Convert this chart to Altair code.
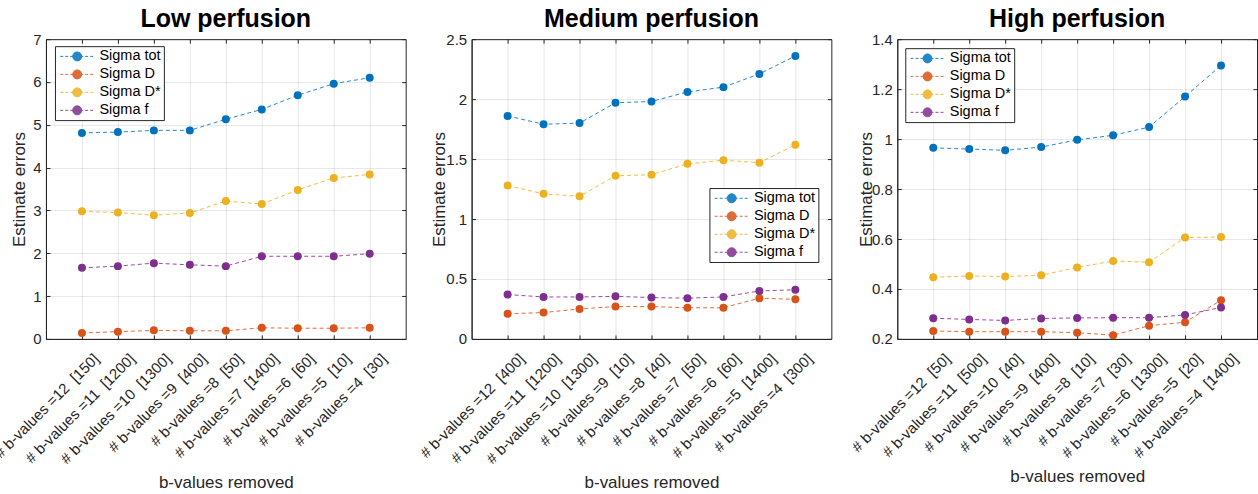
import altair as alt
import pandas as pd

FONT = "Liberation Sans"
TEXT = "#262626"

series = ["Sigma tot", "Sigma D", "Sigma D*", "Sigma f"]
colors = ["#0072BD", "#D95319", "#EDB120", "#7E2F8E"]
positions = [1, 2, 3, 4, 5, 6, 7, 8, 9]

# Low perfusion
low_labels = ["# b-values =12  [150]", "# b-values =11  [1200]", "# b-values =10  [1300]",
              "# b-values =9  [400]", "# b-values =8  [50]", "# b-values =7  [1400]",
              "# b-values =6  [60]", "# b-values =5  [10]", "# b-values =4  [30]"]
low_tot = [4.81, 4.83, 4.87, 4.87, 5.13, 5.36, 5.69, 5.96, 6.10]
low_D = [0.14, 0.17, 0.20, 0.19, 0.19, 0.26, 0.25, 0.25, 0.26]
low_Dstar = [2.98, 2.95, 2.89, 2.94, 3.22, 3.15, 3.48, 3.76, 3.84]
low_f = [1.66, 1.70, 1.77, 1.73, 1.70, 1.93, 1.93, 1.93, 1.99]

# Medium perfusion
med_labels = ["# b-values =12  [400]", "# b-values =11  [1200]", "# b-values =10  [1300]",
              "# b-values =9  [10]", "# b-values =8  [40]", "# b-values =7  [50]",
              "# b-values =6  [60]", "# b-values =5  [1400]", "# b-values =4  [300]"]
med_tot = [1.86, 1.79, 1.80, 1.97, 1.98, 2.06, 2.10, 2.21, 2.36]
med_D = [0.21, 0.22, 0.25, 0.27, 0.27, 0.26, 0.26, 0.34, 0.33]
med_Dstar = [1.28, 1.21, 1.19, 1.36, 1.37, 1.46, 1.49, 1.47, 1.62]
med_f = [0.37, 0.35, 0.35, 0.355, 0.345, 0.34, 0.35, 0.40, 0.41]

# High perfusion
high_labels = ["# b-values =12  [50]", "# b-values =11  [500]", "# b-values =10  [40]",
               "# b-values =9  [400]", "# b-values =8  [10]", "# b-values =7  [30]",
               "# b-values =6  [1300]", "# b-values =5  [20]", "# b-values =4  [1400]"]
high_tot = [0.965, 0.960, 0.955, 0.968, 0.997, 1.015, 1.048, 1.170, 1.295]
high_D = [0.232, 0.229, 0.229, 0.229, 0.225, 0.215, 0.253, 0.267, 0.355]
high_Dstar = [0.447, 0.452, 0.450, 0.455, 0.486, 0.512, 0.507, 0.606, 0.608]
high_f = [0.283, 0.278, 0.274, 0.282, 0.284, 0.285, 0.285, 0.296, 0.326]


def legend_symbol():
    # unit = sqrt(symbolSize)/2 = 5 px; dashed line with a dot in the middle
    segs = []
    x = -1.0
    while x < 6.0:
        x2 = min(x + 0.6, 6.0)
        segs.append(f"M{x:.2f},0H{x2:.2f}")
        x += 1.0
    c, r = 2.4, 0.9
    circle = (f"M{c - r:.2f},0A{r},{r},0,1,1,{c + r:.2f},0"
              f"A{r},{r},0,1,1,{c - r:.2f},0Z")
    return "".join(segs) + circle


LEG_SYMBOL = legend_symbol()


def tick_axis(orient, values):
    return alt.Axis(orient=orient, offset=-4, values=values, ticks=True, tickSize=4,
                    tickColor=TEXT, tickWidth=1, labels=False, domain=False,
                    grid=False, title=None)


def panel(title, labels, values, ydomain, yticks, lx, ly, ytitle_x):
    rows = []
    for name, vals in zip(series, values):
        for p, v in zip(positions, vals):
            rows.append({"pos": p, "series": name, "value": v})
    df = pd.DataFrame(rows)
    labels = [s.replace("  ", " \u00a0") for s in labels]
    label_arr = "[" + ",".join("'" + s + "'" for s in labels) + "]"
    xs = alt.Scale(domain=[0, 10], nice=False, zero=False)
    ys = alt.Scale(domain=ydomain, nice=False, zero=False)
    x_main = alt.X("pos:Q", scale=xs,
                   axis=alt.Axis(values=positions,
                                 labelExpr=label_arr + "[datum.value - 1]",
                                 labelAngle=-45, labelAlign="right", labelBaseline="top",
                                 labelPadding=12, labelOffset=9, labelOverlap=False,
                                 title="b-values removed", titlePadding=8))
    y_main = alt.Y("value:Q", scale=ys,
                   axis=alt.Axis(values=yticks, format="~g", title="Estimate errors",
                                 titleX=ytitle_x, titleBaseline="middle",
                                 labelPadding=5))
    sc = alt.Scale(domain=series, range=colors)
    leg = alt.Legend(title=None, orient="none", legendX=lx, legendY=ly,
                     symbolType=LEG_SYMBOL, symbolSize=100, symbolStrokeWidth=1,
                     labelFontSize=14.5, labelFont=FONT, labelColor="black",
                     fillColor="white", strokeColor=TEXT,
                     padding=3, rowPadding=3, labelOffset=27)
    line = alt.Chart(df).mark_line(strokeDash=[4, 3], strokeWidth=1, opacity=0.85).encode(
        x=x_main, y=y_main, color=alt.Color("series:N", scale=sc, legend=leg))
    pts = alt.Chart(df).mark_point(filled=True, size=64, opacity=1).encode(
        x=alt.X("pos:Q", scale=xs, axis=tick_axis("top", positions)),
        y=alt.Y("value:Q", scale=ys, axis=tick_axis("right", yticks)),
        color=alt.Color("series:N", scale=sc, legend=leg))
    ghost = alt.Chart(df).mark_point(opacity=0, size=1).encode(
        x=alt.X("pos:Q", scale=xs, axis=tick_axis("bottom", positions)),
        y=alt.Y("value:Q", scale=ys, axis=tick_axis("left", yticks)))
    return alt.layer(line, pts, ghost).resolve_axis(
        x="independent", y="independent"
    ).properties(
        width=360, height=300,
        title=alt.Title(title, fontSize=25, font=FONT, fontWeight="bold",
                        color="black", offset=0))


p1 = panel("Low perfusion", low_labels, [low_tot, low_D, low_Dstar, low_f],
           [0, 7], [0, 1, 2, 3, 4, 5, 6, 7], 9, 7, -26)
p2 = panel("Medium perfusion", med_labels, [med_tot, med_D, med_Dstar, med_f],
           [0, 2.5], [0, 0.5, 1, 1.5, 2, 2.5], 238, 149, -32)
p3 = panel("High perfusion", high_labels, [high_tot, high_D, high_Dstar, high_f],
           [0.2, 1.4], [0.2, 0.4, 0.6, 0.8, 1.0, 1.2, 1.4], 8, 9, -31)

chart = alt.hconcat(p1, p2, p3, spacing=66, bounds="flush").resolve_scale(
    color="independent"
).resolve_legend(color="independent").properties(
    padding={"left": -9, "top": 6, "right": 0, "bottom": 0}
).configure_axis(
    labelFont=FONT, titleFont=FONT, labelFontSize=15, titleFontSize=17,
    labelColor=TEXT, titleColor=TEXT, titleFontWeight="normal",
    gridColor="black", gridOpacity=0.1, domain=True, domainColor=TEXT,
    domainWidth=1, ticks=False,
).configure_view(stroke=TEXT, strokeWidth=1)

chart.save("out.html", embed_options={"renderer": "svg", "actions": False})
